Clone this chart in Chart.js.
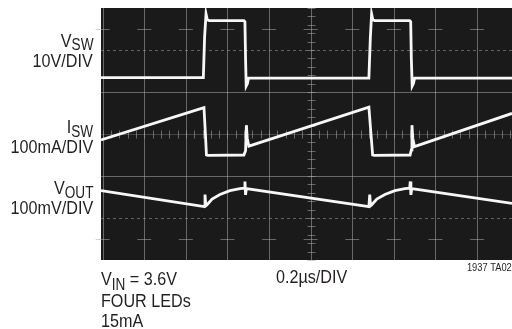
<!DOCTYPE html>
<html>
<head>
<meta charset="utf-8">
<script src="https://cdn.jsdelivr.net/npm/chart.js@4.4.1/dist/chart.umd.min.js"></script>
<style>
    html, body { margin: 0; padding: 0; background: #fff; }
    #wrap { position: relative; width: 512px; height: 329px; overflow: hidden; }
    #scope { position: absolute; left: 0; top: 0; }
    .lbl {
        position: absolute;
        font-family: "Liberation Sans", Arial, sans-serif;
        font-size: 19px;
        line-height: 19px;
        color: #231f20;
        white-space: nowrap;
    }
    .r { right: 419px; text-align: right; transform: scaleX(0.85); transform-origin: right top; }
    .l { transform: scaleX(0.85); transform-origin: left top; }
    .sub { font-size: 16px; position: relative; top: 3.5px; }
    .tiny { font-size: 11px; line-height: 11px; }
</style>
</head>
<body>
<div id="wrap">
    <canvas id="scope" width="512" height="329"></canvas>

    <div class="lbl r" style="top:30.6px">V<span class="sub">SW</span></div>
    <div class="lbl r" style="top:50.6px">10V/DIV</div>
    <div class="lbl r" style="top:117.2px">I<span class="sub">SW</span></div>
    <div class="lbl r" style="top:137.2px">100mA/DIV</div>
    <div class="lbl r" style="top:178.2px">V<span class="sub">OUT</span></div>
    <div class="lbl r" style="top:198.2px">100mV/DIV</div>

    <div class="lbl l" style="left:101px; top:269px">V<span class="sub" style="top:5px">IN</span> = 3.6V</div>
    <div class="lbl l" style="left:101px; top:290.6px">FOUR LEDs</div>
    <div class="lbl l" style="left:101px; top:310.6px">15mA</div>
    <div class="lbl l" style="left:276px; top:267.2px">0.2µs/DIV</div>
    <div class="lbl tiny" style="right:0; top:262.4px; transform:scaleX(0.85); transform-origin:right top">1937 TA02</div>
</div>

<script>
    // time in µs (0.2µs per division), amplitude in screen divisions from centre
    var vswTime = [-0.008, 0.484, 0.490, 0.497, 0.503, 0.512, 0.679, 0.684, 0.687, 0.690, 0.696, 0.701,
                   1.280, 1.287, 1.293, 1.299, 1.308, 1.476, 1.481, 1.484, 1.488, 1.494, 1.500, 1.968];
    var vswDiv  = [1.34, 1.34, 2.30, 2.86, 2.72, 2.70, 2.70, 2.67, 1.80, 1.14, 1.20, 1.33,
                   1.33, 2.30, 2.86, 2.72, 2.70, 2.70, 2.67, 1.80, 1.14, 1.20, 1.33, 1.33];

    var iswTime = [-0.008, 0.487, 0.494, 0.499, 0.506, 0.679, 0.687, 0.691, 0.695, 0.703,
                   1.280, 1.290, 1.298, 1.305, 1.478, 1.484, 1.487, 1.491, 1.499, 1.968];
    var iswDiv  = [-0.14, 0.63, 0.00, -0.50, -0.51, -0.50, -0.40, 0.21, -0.10, -0.29,
                   0.64, 0.00, -0.50, -0.51, -0.50, -0.38, 0.21, -0.10, -0.30, 0.49];

    var voutTime = [-0.008, 0.489, 0.492, 0.496, 0.501, 0.526, 0.564, 0.612, 0.660, 0.682, 0.684, 0.687, 0.691,
                    1.280, 1.284, 1.288, 1.293, 1.318, 1.357, 1.405, 1.453, 1.476, 1.479, 1.482, 1.486, 1.968];
    var voutDiv  = [-1.35, -1.73, -1.44, -1.71, -1.69, -1.55, -1.44, -1.35, -1.30, -1.29, -1.13, -1.45, -1.30,
                    -1.73, -1.44, -1.71, -1.69, -1.55, -1.44, -1.35, -1.30, -1.29, -1.13, -1.45, -1.30, -1.65];

    // graticule
    var xDivTicks = [0, 0.2, 0.4, 0.6, 0.8, 1.0, 1.2, 1.4, 1.6, 1.8];
    var ySolidTicks = [-1, 0, 1];
    var yDottedTicks = [-2, 2];
    var yMarkTicks = [-2.5, 2.5];
    var xCentre = 1.0;

    function toPoints(t, v) {
        return t.map(function (x, i) { return { x: x, y: v[i] }; });
    }

    var scopeScreen = {
        id: 'scopeScreen',
        beforeDatasetsDraw: function (chart) {
            var ctx = chart.ctx, a = chart.chartArea;
            var xs = chart.scales.x, ys = chart.scales.y;
            ctx.save();
            ctx.fillStyle = '#1a1a1a';
            ctx.fillRect(a.left, a.top, a.right - a.left, a.bottom - a.top);

            ctx.lineWidth = 1;
            ctx.strokeStyle = 'rgba(170,170,170,0.55)';
            // vertical division lines
            xDivTicks.forEach(function (t) {
                var x = Math.round(xs.getPixelForValue(t)) + 0.5;
                ctx.beginPath(); ctx.moveTo(x, a.top); ctx.lineTo(x, a.bottom); ctx.stroke();
            });
            // solid horizontal lines
            ySolidTicks.forEach(function (v) {
                var y = Math.round(ys.getPixelForValue(v)) + 0.5;
                ctx.strokeStyle = v === 0 ? 'rgba(170,170,170,0.3)' : 'rgba(170,170,170,0.55)';
                ctx.beginPath(); ctx.moveTo(a.left, y); ctx.lineTo(a.right, y); ctx.stroke();
            });
            // dotted horizontal lines
            ctx.strokeStyle = 'rgba(170,170,170,0.5)';
            ctx.setLineDash([3, 3]);
            yDottedTicks.forEach(function (v) {
                var y = Math.round(ys.getPixelForValue(v)) + 0.5;
                ctx.beginPath(); ctx.moveTo(a.left, y); ctx.lineTo(a.right, y); ctx.stroke();
            });
            ctx.setLineDash([]);
            // short marks on the 2.5 div rows
            ctx.strokeStyle = 'rgba(170,170,170,0.55)';
            yMarkTicks.forEach(function (v) {
                var y = Math.round(ys.getPixelForValue(v)) + 0.5;
                xDivTicks.forEach(function (t) {
                    var x = xs.getPixelForValue(t);
                    ctx.beginPath(); ctx.moveTo(x - 7, y); ctx.lineTo(x + 7, y); ctx.stroke();
                });
            });
            // minor ticks on the centre lines
            var yc = Math.round(ys.getPixelForValue(0)) + 0.5;
            for (var t = 0; t <= 1.97; t += 0.04) {
                var px = Math.round(xs.getPixelForValue(t)) + 0.5;
                ctx.beginPath(); ctx.moveTo(px, yc - 4); ctx.lineTo(px, yc + 4); ctx.stroke();
            }
            var xc = Math.round(xs.getPixelForValue(xCentre)) + 0.5;
            for (var v = -3; v <= 3.001; v += 0.2) {
                var py = Math.round(ys.getPixelForValue(v)) + 0.5;
                ctx.beginPath(); ctx.moveTo(xc - 4, py); ctx.lineTo(xc + 4, py); ctx.stroke();
            }
            ctx.restore();
        }
    };

    function traceStyle(points) {
        return {
            data: points,
            borderColor: '#f7f7f7',
            borderWidth: 2.8,
            pointRadius: 0,
            tension: 0,
            fill: false
        };
    }

    new Chart(document.getElementById('scope').getContext('2d'), {
        type: 'line',
        data: {
            datasets: [
                traceStyle(toPoints(vswTime, vswDiv)),
                traceStyle(toPoints(iswTime, iswDiv)),
                traceStyle(toPoints(voutTime, voutDiv))
            ]
        },
        options: {
            responsive: false,
            animation: false,
            devicePixelRatio: 1,
            layout: { padding: { left: 101, top: 8, right: 0, bottom: 69 } },
            plugins: { legend: { display: false }, tooltip: { enabled: false } },
            scales: {
                x: { type: 'linear', min: -0.008, max: 1.968, display: false },
                y: { type: 'linear', min: -3, max: 3, display: false }
            }
        },
        plugins: [scopeScreen]
    });
</script>
</body>
</html>
